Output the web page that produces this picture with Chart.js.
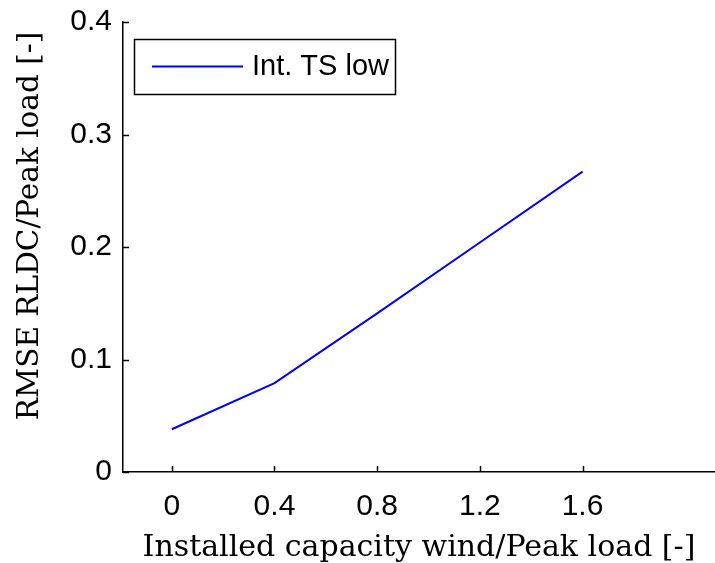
<!DOCTYPE html>
<html>
<head>
<meta charset="utf-8">
<script src="https://cdn.jsdelivr.net/npm/chart.js@4/dist/chart.umd.min.js"></script>
<style>
html,body{margin:0;padding:0;background:#fff;}
#wrap{width:715px;height:563px;}
</style>
</head>
<body>
<div id="wrap"><canvas id="c" width="715" height="563"></canvas></div>
<script>
// ---- data ----
const capacityRatio = [0, 0.4, 0.8, 1.2, 1.6];
const rmseIntTSLow = [0.038, 0.079, 0.141, 0.204, 0.267];
const seriesLabel = 'Int. TS low';
const xTickValues = [0, 0.4, 0.8, 1.2, 1.6];
const xTickLabels = ['0', '0.4', '0.8', '1.2', '1.6'];
const yTickValues = [0, 0.1, 0.2, 0.3, 0.4];
const yTickLabels = ['0', '0.1', '0.2', '0.3', '0.4'];
const xAxisTitle = 'Installed capacity wind/Peak load [-]';
const yAxisTitle = 'RMSE RLDC/Peak load [-]';

const points = capacityRatio.map((x, i) => ({x: x, y: rmseIntTSLow[i]}));

const tickFont = {family: '"Liberation Sans", Arial, sans-serif', size: 30};

const decor = {
  id: 'decor',
  afterDraw(chart) {
    const ctx = chart.ctx;
    const xs = chart.scales.x, ys = chart.scales.y;
    const a = chart.chartArea;
    ctx.save();
    // inward ticks
    ctx.strokeStyle = '#000';
    ctx.lineWidth = 1.5;
    ctx.beginPath();
    xTickValues.forEach(v => {
      const px = Math.round(xs.getPixelForValue(v)) + 0.5;
      ctx.moveTo(px, a.bottom);
      ctx.lineTo(px, a.bottom - 6);
    });
    yTickValues.forEach(v => {
      const py = Math.round(ys.getPixelForValue(v)) + 0.5;
      ctx.moveTo(a.left, py);
      ctx.lineTo(a.left + 6, py);
    });
    ctx.stroke();
    // axis titles
    ctx.fillStyle = '#000';
    ctx.textAlign = 'center';
    ctx.textBaseline = 'middle';
    ctx.font = '30px "DejaVu Serif", "Liberation Serif", serif';
    ctx.fillText(xAxisTitle, (a.left + a.right) / 2, 548);
    ctx.save();
    ctx.translate(30, 226);
    ctx.rotate(-Math.PI / 2);
    ctx.font = '29.5px "DejaVu Serif", "Liberation Serif", serif';
    ctx.fillText(yAxisTitle, 0, 0);
    ctx.restore();
    // legend
    const ds = chart.data.datasets[0];
    ctx.lineWidth = 1.5;
    ctx.strokeStyle = '#000';
    ctx.fillStyle = '#fff';
    ctx.fillRect(134, 39, 261, 55);
    ctx.strokeRect(134.5, 39.5, 261, 55);
    ctx.strokeStyle = ds.borderColor;
    ctx.lineWidth = ds.borderWidth;
    ctx.beginPath();
    ctx.moveTo(152, 66.5);
    ctx.lineTo(243, 66.5);
    ctx.stroke();
    ctx.fillStyle = '#000';
    ctx.font = '29px "Liberation Sans", Arial, sans-serif';
    ctx.textAlign = 'left';
    ctx.textBaseline = 'middle';
    ctx.fillText(ds.label, 252, 67);
    ctx.restore();
  }
};

new Chart(document.getElementById('c'), {
  type: 'line',
  data: {
    datasets: [{
      label: seriesLabel,
      data: points,
      borderColor: '#0000ff',
      borderWidth: 2,
      pointRadius: 0,
      fill: false,
      tension: 0
    }]
  },
  options: {
    responsive: false,
    animation: false,
    layout: {padding: {top: 22, right: 0, bottom: 0, left: 0}},
    plugins: {legend: {display: false}, tooltip: {enabled: false}},
    scales: {
      x: {
        type: 'linear',
        min: -0.19,
        max: 2.116,
        grid: {display: false, drawTicks: false, tickLength: 0},
        border: {display: true, color: '#000', width: 1.5},
        afterBuildTicks: s => { s.ticks = xTickValues.map(v => ({value: v})); },
        afterFit: s => { s.height = 91; s.paddingLeft = 0; s.paddingRight = 0; },
        ticks: {
          color: '#000',
          font: tickFont,
          padding: 17,
          maxRotation: 0,
          autoSkip: false,
          callback: (v) => { const i = xTickValues.indexOf(v); return i >= 0 ? xTickLabels[i] : ''; }
        }
      },
      y: {
        type: 'linear',
        min: 0,
        max: 0.4,
        grid: {display: false, drawTicks: false, tickLength: 0},
        border: {display: true, color: '#000', width: 1.5},
        afterBuildTicks: s => { s.ticks = yTickValues.map(v => ({value: v})); },
        afterFit: s => { s.width = 123; s.paddingTop = 0; s.paddingBottom = 0; },
        ticks: {
          color: '#000',
          font: tickFont,
          padding: 11,
          autoSkip: false,
          callback: (v) => { const i = yTickValues.findIndex(t => Math.abs(t - v) < 1e-9); return i >= 0 ? yTickLabels[i] : ''; }
        }
      }
    }
  },
  plugins: [decor]
});
</script>
</body>
</html>
